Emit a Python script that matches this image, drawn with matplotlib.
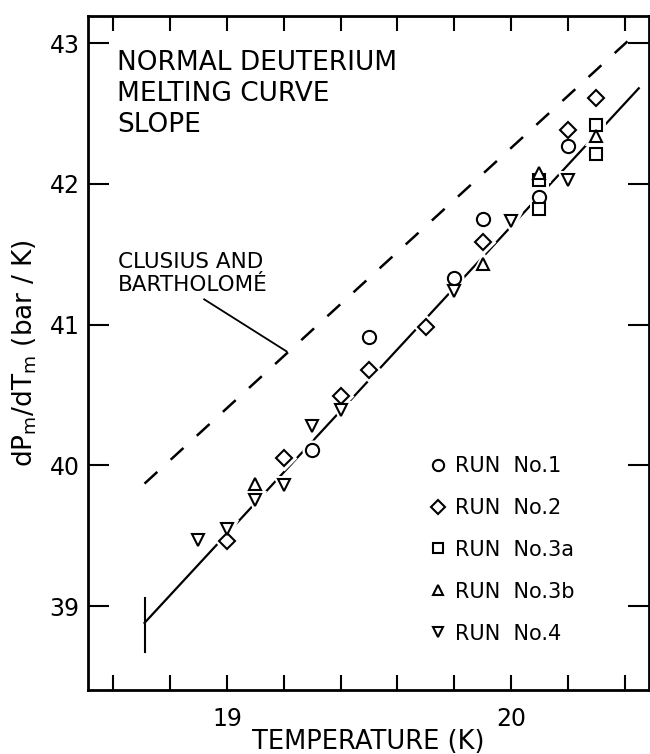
import matplotlib
matplotlib.use('Agg')
import matplotlib.pyplot as plt

# melting curve slope dPm/dTm (bar/K) against temperature (K), per run
run1_T = [19.3, 19.5, 19.8, 19.9, 20.1, 20.2]
run1_slope = [40.11, 40.91, 41.33, 41.75, 41.91, 42.27]
run2_T = [19.0, 19.2, 19.4, 19.5, 19.7, 19.9, 20.2, 20.3]
run2_slope = [39.46, 40.05, 40.49, 40.68, 40.98, 41.59, 42.38, 42.61]
run3a_T = [20.1, 20.1, 20.3, 20.3]
run3a_slope = [42.03, 41.82, 42.42, 42.21]
run3b_T = [19.1, 19.9, 20.1, 20.3]
run3b_slope = [39.87, 41.43, 42.08, 42.34]
run4_T = [18.9, 19.0, 19.1, 19.2, 19.3, 19.4, 19.8, 20.0, 20.2]
run4_slope = [39.47, 39.55, 39.75, 39.86, 40.28, 40.39, 41.24, 41.74, 42.03]

# fitted line, Clusius & Bartholome line, triple point bar
fit_T = [18.71, 20.45]
fit_slope = [38.88, 42.68]
cb_T = [18.71, 20.43]
cb_slope = [39.87, 43.05]
tp_T = [18.71, 18.71]
tp_slope = [38.67, 39.06]
leader_T = [18.92, 19.21]
leader_slope = [41.18, 40.81]

x_ticks = [18.6, 18.8, 19.0, 19.2, 19.4, 19.6, 19.8, 20.0, 20.2, 20.4]
x_labels = ['', '', '19', '', '', '', '', '20', '', '']
y_ticks = [39, 40, 41, 42, 43]

runs = [
    (run1_T, run1_slope, 'o', 9.5, 'RUN  No.1'),
    (run2_T, run2_slope, 'D', 8.0, 'RUN  No.2'),
    (run3a_T, run3a_slope, 's', 8.8, 'RUN  No.3a'),
    (run3b_T, run3b_slope, '^', 9.0, 'RUN  No.3b'),
    (run4_T, run4_slope, 'v', 9.0, 'RUN  No.4'),
]

plt.rcParams['lines.scale_dashes'] = False
fig = plt.figure(figsize=(6.5, 7.54), dpi=100)
ax = fig.add_axes([88 / 650, 1 - 690 / 754, 561 / 650, 674.3 / 754])

ax.plot(fit_T, fit_slope, color='black', lw=1.6, zorder=2)
ax.plot(cb_T, cb_slope, color='black', lw=1.8, dashes=(12.5, 13), zorder=2)
ax.plot(tp_T, tp_slope, color='black', lw=1.5, zorder=2)
ax.plot(leader_T, leader_slope, color='black', lw=1.3, zorder=2)

# white halo under each marker so the line breaks around it
for T, s, m, ms, lab in runs:
    ax.plot(T, s, ls='none', marker=m, ms=ms, mfc='white', mec='white', mew=5, zorder=3)
for T, s, m, ms, lab in runs:
    ax.plot(T, s, ls='none', marker=m, ms=ms, mfc='white', mec='black', mew=1.5,
            zorder=4, label=lab)

ax.set_xlim(18.511, 20.486)
ax.set_ylim(38.403, 43.196)
ax.set_xticks(x_ticks)
ax.set_xticklabels(x_labels)
ax.set_yticks(y_ticks)
ax.tick_params(axis='x', direction='in', length=11, width=1.5, top=True, pad=12, labelsize=17)
ax.tick_params(axis='y', direction='in', length=15, width=1.5, right=True, pad=6, labelsize=17)
for sp in ax.spines.values():
    sp.set_linewidth(2)

ax.set_xlabel('TEMPERATURE (K)', fontsize=18.5, labelpad=-1)
ax.set_ylabel(r'dP$_\mathrm{m}$/dT$_\mathrm{m}$ (bar / K)', fontsize=19, labelpad=8)

ax.text(18.613, 42.95, 'NORMAL DEUTERIUM\nMELTING CURVE\nSLOPE', fontsize=19,
        va='top', ha='left', linespacing=1.25)
ax.text(18.616, 41.514, 'CLUSIUS AND\nBARTHOLOMÉ', fontsize=15.5, va='top', ha='left',
        linespacing=1.15)

ax.legend(loc='upper left', bbox_to_anchor=(430 / 650, 1 - 456 / 754),
          bbox_transform=fig.transFigure, frameon=False, fontsize=15, markerscale=0.85,
          handlelength=0.8, handletextpad=0.4, labelspacing=1.05, borderpad=0,
          borderaxespad=0, numpoints=1)

fig.savefig('out.png', dpi=100)
